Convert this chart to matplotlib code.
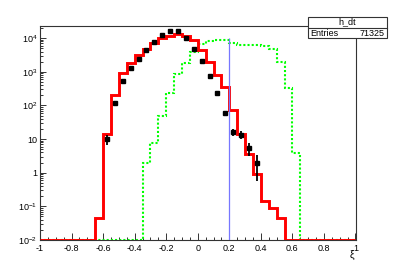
import numpy as np
import matplotlib
matplotlib.use("Agg")
import matplotlib.pyplot as plt
from matplotlib.patches import Rectangle
from matplotlib.lines import Line2D
from matplotlib.ticker import LogLocator, NullFormatter

plt.rcParams['font.family'] = ['Liberation Sans', 'DejaVu Sans']
plt.rcParams['mathtext.default'] = 'regular'

# ---- data ----
bin_edges = np.round(np.linspace(-1.0, 1.0, 41), 3)

# red histogram (40 bins of width 0.05 from -1 to 1)
red_values = [0, 0, 0, 0, 0, 0, 0,
              0.045, 14, 210, 920, 1800, 3200, 4900, 7200, 9800, 11800, 13500,
              12000, 8700, 4400, 1950, 830, 350, 71, 14, 3.6, 0.9, 0.14, 0.089, 0.045,
              0, 0, 0, 0, 0, 0, 0, 0, 0]

# green dotted histogram
green_values = [0, 0, 0, 0, 0, 0, 0, 0, 0, 0, 0, 0, 0,
                1.95, 7.4, 50, 230, 850, 1850, 3900, 6600, 8300, 8900, 8900,
                7400, 6300, 6300, 6300, 5900, 4700, 2000, 340, 3.9,
                0, 0, 0, 0, 0, 0, 0]

# data points
data_x = [-0.575, -0.525, -0.475, -0.425, -0.375, -0.325, -0.275, -0.225, -0.175, -0.125,
          -0.075, -0.025, 0.025, 0.075, 0.125, 0.175, 0.225, 0.275, 0.325, 0.375]
data_y = [10, 120, 550, 1260, 2450, 4400, 7800, 12300, 16300, 16300,
          10200, 4900, 2050, 740, 235, 59, 16, 13.5, 5.5, 2]

cut_x = 0.2
cut_top = 1e4

x_ticks = [-1, -0.8, -0.6, -0.4, -0.2, 0, 0.2, 0.4, 0.6, 0.8, 1]
x_tick_labels = ['-1', '-0.8', '-0.6', '-0.4', '-0.2', '0', '0.2', '0.4', '0.6', '0.8', '1']
y_ticks = [1e-2, 1e-1, 1, 10, 1e2, 1e3, 1e4]
y_tick_labels = ['$10^{-2}$', '$10^{-1}$', '1', '10', '$10^{2}$', '$10^{3}$', '$10^{4}$']

hist_name = 'h_dt'
entries = 71325
x_label = 'ξ'

ymin, ymax = 1e-2, 2.3e4

# ---- figure ----
fig = plt.figure(figsize=(3.95, 2.67), dpi=100)
ax = fig.add_axes([40/395, 1-240/267, 315.5/395, 214/267])

red = np.array(red_values, float)
green = np.array(green_values, float)
ax.stairs(np.where(green > 0, green, ymin), bin_edges, baseline=None,
          color='#00ff00', lw=1.5, linestyle=(0, (1, 1)), zorder=2)
ax.stairs(np.where(red > 0, red, ymin), bin_edges, baseline=None,
          color='red', lw=2.1, zorder=3)
ax.vlines(cut_x, ymin, cut_top, color='#7777ff', lw=0.9, zorder=4)

dy = np.sqrt(np.array(data_y, float))
ax.errorbar(data_x, data_y, yerr=dy, fmt='s', color='black', ms=3.3,
            elinewidth=1.3, capsize=0, zorder=5)

ax.set_yscale('log')
ax.set_xlim(-1, 1)
ax.set_ylim(ymin, ymax)
ax.set_xticks(x_ticks)
ax.set_xticklabels(x_tick_labels)
ax.set_xticks(np.arange(-1, 1.001, 0.05), minor=True)
ax.set_yticks(y_ticks)
ax.set_yticklabels(y_tick_labels)
ax.yaxis.set_minor_locator(LogLocator(base=10, subs=np.arange(2, 10), numticks=100))
ax.yaxis.set_minor_formatter(NullFormatter())
ax.tick_params(axis='both', which='both', direction='in', top=False, right=False,
               labelsize=6.5, width=0.7, colors='#333333', labelcolor='black')
ax.tick_params(axis='x', which='major', length=4.8, pad=3)
ax.tick_params(axis='x', which='minor', length=2.4)
ax.tick_params(axis='y', which='major', length=4.5, pad=2)
ax.tick_params(axis='y', which='minor', length=2.5)
for s in ax.spines.values():
    s.set_linewidth(0.8)
    s.set_color('#333333')

fig.text(351.7/395, 1-255/267, x_label, ha='center', va='center', fontsize=7.5)

# stats box
bx0, bx1 = 307.7/395, 387.3/395
by_top, by_bot, by_mid = 1-16.7/267, 1-38.3/267, 1-27.7/267
fig.patches.append(Rectangle((bx0, by_bot), bx1-bx0, by_top-by_bot, transform=fig.transFigure,
                             facecolor='white', edgecolor='#333333', lw=0.8, zorder=10))
fig.lines.append(Line2D([bx0, bx1], [by_mid, by_mid], transform=fig.transFigure,
                        color='#333333', lw=0.8, zorder=11))
fig.text((bx0+bx1)/2, (by_top+by_mid)/2, hist_name, ha='center', va='center', fontsize=6.5, zorder=12)
fig.text(bx0+0.006, (by_mid+by_bot)/2, 'Entries', ha='left', va='center', fontsize=6.5, zorder=12)
fig.text(bx1-0.006, (by_mid+by_bot)/2, str(entries), ha='right', va='center', fontsize=6.5, zorder=12)

fig.savefig('out.png', dpi=100, facecolor='white')
